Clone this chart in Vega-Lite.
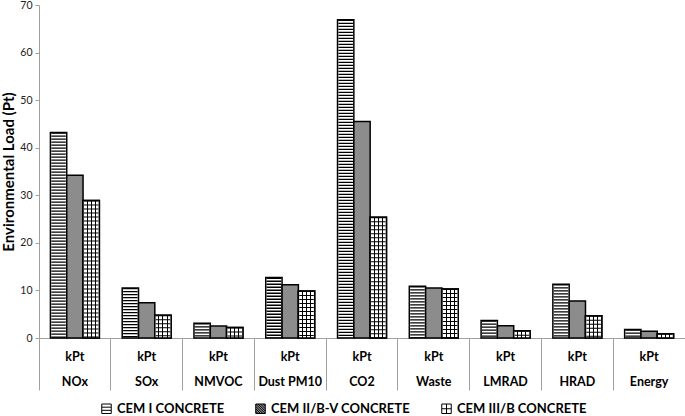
{
  "$schema": "https://vega.github.io/schema/vega-lite/v6.json",
  "width": 646,
  "height": 333,
  "autosize": "none",
  "padding": {"left": 39, "top": 5, "right": 0, "bottom": 78},
  "background": "white",
  "config": {
    "view": {"stroke": null},
    "font": "Lato"
  },
  "data": {
    "values": [
      {"category": "NOx", "series": "CEM I CONCRETE", "value": 43.2},
      {"category": "NOx", "series": "CEM II/B-V CONCRETE", "value": 34.2},
      {"category": "NOx", "series": "CEM III/B CONCRETE", "value": 28.9},
      {"category": "SOx", "series": "CEM I CONCRETE", "value": 10.5},
      {"category": "SOx", "series": "CEM II/B-V CONCRETE", "value": 7.4},
      {"category": "SOx", "series": "CEM III/B CONCRETE", "value": 4.8},
      {"category": "NMVOC", "series": "CEM I CONCRETE", "value": 3.1},
      {"category": "NMVOC", "series": "CEM II/B-V CONCRETE", "value": 2.5},
      {"category": "NMVOC", "series": "CEM III/B CONCRETE", "value": 2.2},
      {"category": "Dust PM10", "series": "CEM I CONCRETE", "value": 12.7},
      {"category": "Dust PM10", "series": "CEM II/B-V CONCRETE", "value": 11.2},
      {"category": "Dust PM10", "series": "CEM III/B CONCRETE", "value": 9.9},
      {"category": "CO2", "series": "CEM I CONCRETE", "value": 66.9},
      {"category": "CO2", "series": "CEM II/B-V CONCRETE", "value": 45.5},
      {"category": "CO2", "series": "CEM III/B CONCRETE", "value": 25.4},
      {"category": "Waste", "series": "CEM I CONCRETE", "value": 10.9},
      {"category": "Waste", "series": "CEM II/B-V CONCRETE", "value": 10.5},
      {"category": "Waste", "series": "CEM III/B CONCRETE", "value": 10.3},
      {"category": "LMRAD", "series": "CEM I CONCRETE", "value": 3.7},
      {"category": "LMRAD", "series": "CEM II/B-V CONCRETE", "value": 2.6},
      {"category": "LMRAD", "series": "CEM III/B CONCRETE", "value": 1.5},
      {"category": "HRAD", "series": "CEM I CONCRETE", "value": 11.3},
      {"category": "HRAD", "series": "CEM II/B-V CONCRETE", "value": 7.8},
      {"category": "HRAD", "series": "CEM III/B CONCRETE", "value": 4.7},
      {"category": "Energy", "series": "CEM I CONCRETE", "value": 1.8},
      {"category": "Energy", "series": "CEM II/B-V CONCRETE", "value": 1.4},
      {"category": "Energy", "series": "CEM III/B CONCRETE", "value": 0.9}
    ]
  },
  "encoding": {
    "x": {
      "field": "category", "type": "nominal", "sort": null,
      "scale": {"domain": ["NOx", "SOx", "NMVOC", "Dust PM10", "CO2", "Waste", "LMRAD", "HRAD", "Energy"], "paddingInner": 0, "paddingOuter": 0},
      "axis": {
        "title": null, "labelAngle": 0,
        "bandPosition": 1, "tickExtra": true,
        "tickSize": 52, "tickColor": "#a0a0a0", "tickWidth": 1,
        "domainColor": "#a0a0a0", "domainWidth": 1,
        "labelExpr": "datum.label ? ['kPt', datum.label] : ''",
        "labelLineHeight": 25, "labelBaseline": "top", "labelPadding": -40,
        "labelFont": "Lato", "labelFontSize": 12.5, "labelFontWeight": "bold", "labelColor": "black"
      }
    },
    "xOffset": {
      "field": "series", "type": "nominal", "sort": null,
      "scale": {"domain": ["CEM I CONCRETE", "CEM II/B-V CONCRETE", "CEM III/B CONCRETE"], "paddingInner": 0, "paddingOuter": 0.7}
    },
    "y": {
      "field": "value", "type": "quantitative",
      "scale": {"domain": [0, 70], "nice": false},
      "axis": {
        "title": "Environmental Load (Pt)",
        "values": [0, 10, 20, 30, 40, 50, 60, 70],
        "grid": false,
        "domainColor": "#a0a0a0", "tickColor": "#a0a0a0", "tickSize": 4,
        "labelFont": "Lato", "labelFontSize": 10.5, "labelColor": "#222", "labelPadding": 3,
        "titleFont": "Lato", "titleFontSize": 15, "titleFontWeight": "bold", "titleColor": "black", "titlePadding": 3
      }
    }
  },
  "layer": [
    {
      "mark": {"type": "bar", "stroke": "black", "strokeWidth": 1.5},
      "encoding": {
        "fill": {
          "field": "series", "type": "nominal",
          "scale": {"domain": ["CEM I CONCRETE", "CEM II/B-V CONCRETE", "CEM III/B CONCRETE"], "range": ["#ffffff", "#8c8c8c", "#ffffff"]},
          "legend": {
            "orient": "none", "direction": "horizontal", "legendX": 61, "legendY": 397,
            "title": null,
            "labelFont": "Lato", "labelFontSize": 13, "labelFontWeight": "bold", "labelColor": "black",
            "symbolSize": 90, "labelOffset": 4, "columnPadding": 28,
            "symbolOpacity": 1, "symbolStrokeColor": "black", "symbolStrokeWidth": 1
          }
        }
      }
    },
    {
      "transform": [{"filter": "datum.series === 'CEM III/B CONCRETE'"}],
      "mark": {
        "type": "bar", "stroke": "black", "strokeWidth": 1.5,
        "fill": {
          "gradient": "linear", "x1": 0, "y1": 0, "x2": 1, "y2": 0,
          "stops": [
            {"offset": 0, "color": "#ffffff"},
            {"offset": 0.22, "color": "#ffffff"},
            {"offset": 0.22, "color": "#000000"},
            {"offset": 0.28, "color": "#000000"},
            {"offset": 0.28, "color": "#ffffff"},
            {"offset": 0.47, "color": "#ffffff"},
            {"offset": 0.47, "color": "#000000"},
            {"offset": 0.53, "color": "#000000"},
            {"offset": 0.53, "color": "#ffffff"},
            {"offset": 0.72, "color": "#ffffff"},
            {"offset": 0.72, "color": "#000000"},
            {"offset": 0.78, "color": "#000000"},
            {"offset": 0.78, "color": "#ffffff"},
            {"offset": 1, "color": "#ffffff"}
          ]
        }
      },
      "encoding": {}
    },
    {
      "transform": [{"filter": "datum.series === 'CEM I CONCRETE'"}],
      "mark": {"type": "rule", "color": "black", "strokeWidth": 14.5, "strokeDash": [1.3, 1.7], "strokeCap": "butt"},
      "encoding": {"y2": {"datum": 0}}
    },
    {
      "transform": [{"filter": "datum.series === 'CEM III/B CONCRETE'"}],
      "mark": {"type": "rule", "color": "black", "strokeWidth": 14.5, "strokeDash": [1, 3], "strokeCap": "butt"},
      "encoding": {"y2": {"datum": 0}}
    },
    {
      "mark": {"type": "point", "filled": false, "color": "black", "opacity": 0, "strokeWidth": 1},
      "encoding": {
        "shape": {
          "field": "series", "type": "nominal",
          "scale": {
            "domain": ["CEM I CONCRETE", "CEM II/B-V CONCRETE", "CEM III/B CONCRETE"],
            "range": [
              "M-1,-1H1V1H-1Z M-1,-0.33H1 M-1,0.33H1",
              "M-1,-1H1V1H-1Z M-1,-1L1,1 M-1,-0.5L0.5,1 M-1,0L0,1 M-1,0.5L-0.5,1 M-0.5,-1L1,0.5 M0,-1L1,0 M0.5,-1L1,-0.5",
              "M-1,-1H1V1H-1Z M-1,0H1 M0,-1V1"
            ]
          },
          "legend": {
            "orient": "none", "direction": "horizontal", "legendX": 61, "legendY": 397,
            "title": null,
            "labelFont": "Lato", "labelFontSize": 13, "labelFontWeight": "bold", "labelColor": "black",
            "symbolSize": 90, "labelOffset": 4, "columnPadding": 28,
            "symbolOpacity": 1, "symbolStrokeColor": "black", "symbolStrokeWidth": 1
          }
        }
      }
    }
  ]
}
